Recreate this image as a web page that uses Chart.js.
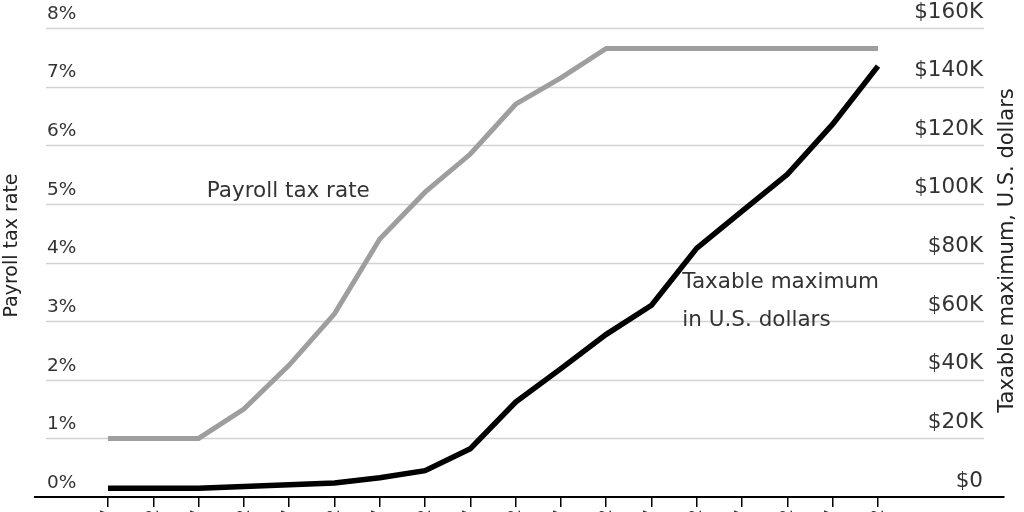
<!DOCTYPE html>
<html>
<head>
<meta charset="utf-8">
<script src="https://cdn.jsdelivr.net/npm/chart.js@4.4.1/dist/chart.umd.min.js"></script>
<style>
  html, body { margin: 0; padding: 0; background: #fff; }
  #wrap { position: relative; width: 1024px; height: 512px; }
</style>
</head>
<body>
<div id="wrap"><canvas id="c"></canvas></div>
<script>
// ---- data ----
const years = [1937, 1942, 1947, 1952, 1957, 1962, 1967, 1972, 1977, 1982, 1987, 1992, 1997, 2002, 2007, 2012, 2017, 2022];
const payrollTaxRate = [1, 1, 1, 1.5, 2.25, 3.125, 4.4, 5.2, 5.85, 6.7, 7.15, 7.65, 7.65, 7.65, 7.65, 7.65, 7.65, 7.65];
const taxableMaximum = [3000, 3000, 3000, 3600, 4200, 4800, 6600, 9000, 16500, 32400, 43800, 55500, 65400, 84900, 97500, 110100, 127200, 147000];
const rateTicks = [0, 1, 2, 3, 4, 5, 6, 7, 8];
const dollarTicks = [0, 20000, 40000, 60000, 80000, 100000, 120000, 140000, 160000];

const FONT = 'DejaVu Sans';
const TEXT = '#333333';

function zeroPad(scale) {
  scale.paddingTop = 0; scale.paddingBottom = 0;
  scale.paddingLeft = 0; scale.paddingRight = 0;
}

const gridPlugin = {
  id: 'customGrid',
  beforeDatasetsDraw(chart) {
    const { ctx, chartArea, scales } = chart;
    const y = scales.y;
    ctx.save();
    ctx.strokeStyle = '#d2d2d2';
    ctx.lineWidth = 1.5;
    rateTicks.forEach(v => {
      if (v === 0) return;
      const py = Math.round(y.getPixelForValue(v)) + 0.5;
      ctx.beginPath();
      ctx.moveTo(chartArea.left + 11, py);
      ctx.lineTo(chartArea.right - 20, py);
      ctx.stroke();
    });
    ctx.restore();
  }
};

const textPlugin = {
  id: 'texts',
  afterDraw(chart) {
    const { ctx, scales } = chart;
    const x = scales.x, y = scales.y, y2 = scales.y2;
    ctx.save();
    ctx.fillStyle = TEXT;
    ctx.textBaseline = 'middle';
    ctx.textAlign = 'left';
    ctx.font = '21.5px "' + FONT + '"';
    ctx.fillText('Payroll tax rate', x.getPixelForValue(1947.9), y.getPixelForValue(5.21));
    ctx.fillText('Taxable maximum', x.getPixelForValue(2000.4), y2.getPixelForValue(73200));
    ctx.fillText('in U.S. dollars', x.getPixelForValue(2000.4), y2.getPixelForValue(60200));

    // axis titles
    ctx.fillStyle = '#222';
    ctx.textAlign = 'center';
    ctx.save();
    ctx.translate(12, (chart.chartArea.top + chart.chartArea.bottom) / 2 - 17);
    ctx.rotate(-Math.PI / 2);
    ctx.font = '19px "' + FONT + '"';
    ctx.fillText('Payroll tax rate', 0, 0);
    ctx.restore();
    ctx.save();
    ctx.translate(1008, (chart.chartArea.top + chart.chartArea.bottom) / 2 - 12);
    ctx.rotate(-Math.PI / 2);
    ctx.font = '21px "' + FONT + '"';
    ctx.fillText('Taxable maximum, U.S. dollars', 0, 0);
    ctx.restore();
    ctx.restore();
  }
};

Chart.defaults.font.family = FONT;
Chart.defaults.color = TEXT;

new Chart(document.getElementById('c'), {
  type: 'line',
  data: {
    datasets: [
      {
        label: 'Payroll tax rate',
        data: years.map((yr, i) => ({ x: yr, y: payrollTaxRate[i] })),
        yAxisID: 'y',
        borderColor: '#9e9e9e',
        borderWidth: 5,
        pointRadius: 0,
        tension: 0,
        borderCapStyle: 'butt'
      },
      {
        label: 'Taxable maximum',
        data: years.map((yr, i) => ({ x: yr, y: taxableMaximum[i] })),
        yAxisID: 'y2',
        borderColor: '#000000',
        borderWidth: 5.5,
        pointRadius: 0,
        tension: 0,
        borderCapStyle: 'butt'
      }
    ]
  },
  options: {
    responsive: true,
    maintainAspectRatio: false,
    animation: false,
    layout: { padding: { top: 28, left: 0, right: 0, bottom: 0 } },
    plugins: { legend: { display: false }, tooltip: { enabled: false } },
    scales: {
      x: {
        type: 'linear',
        min: 1928.94,
        max: 2035.91,
        afterBuildTicks(scale) { scale.ticks = years.map(v => ({ value: v })); },
        afterFit(scale) { scale.height = 15; zeroPad(scale); },
        grid: { display: true, drawOnChartArea: false, drawTicks: true, tickLength: 10, color: '#000', lineWidth: 1.5 },
        border: { display: true, color: '#000', width: 2 },
        ticks: {
          autoSkip: false,
          minRotation: 90,
          maxRotation: 90,
          padding: 2,
          color: TEXT,
          font: { size: 18 },
          callback: v => String(v)
        }
      },
      y: {
        position: 'left',
        min: 0,
        max: 8,
        afterBuildTicks(scale) { scale.ticks = rateTicks.map(v => ({ value: v })); },
        afterFit(scale) { scale.width = 35; zeroPad(scale); },
        grid: { display: false },
        border: { display: false },
        ticks: {
          mirror: true,
          padding: 12,
          labelOffset: -14,
          color: TEXT,
          font: { size: 18.5 },
          callback: v => v + '%'
        }
      },
      y2: {
        position: 'right',
        min: 0,
        max: 160000,
        afterBuildTicks(scale) { scale.ticks = dollarTicks.map(v => ({ value: v })); },
        afterFit(scale) { scale.width = 20; zeroPad(scale); },
        grid: { display: false },
        border: { display: false },
        ticks: {
          mirror: true,
          padding: -21,
          labelOffset: -16,
          color: TEXT,
          font: { size: 21.5 },
          callback: v => v === 0 ? '$0' : '$' + (v / 1000) + 'K'
        }
      }
    }
  },
  plugins: [gridPlugin, textPlugin]
});
</script>
</body>
</html>
